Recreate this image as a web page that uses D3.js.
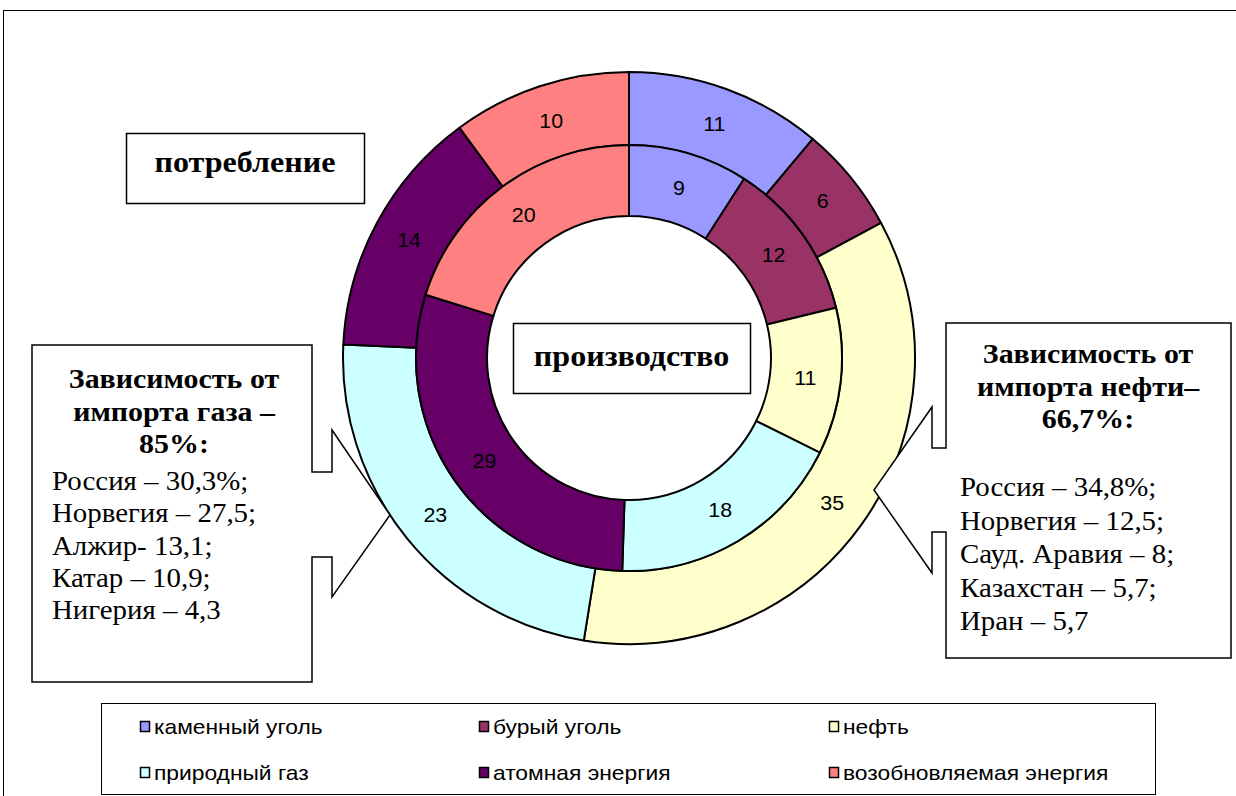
<!DOCTYPE html>
<html><head><meta charset="utf-8">
<script src="https://cdn.jsdelivr.net/npm/d3@7"></script>
<style>body{margin:0;background:#fff}svg{display:block}</style>
</head><body>
<svg id="c" width="1236" height="796"></svg>
<script>
const categories = ["каменный уголь","бурый уголь","нефть","природный газ","атомная энергия","возобновляемая энергия"];
const consumption = [11,6,35,23,14,10];   // outer ring: потребление
const production  = [9,12,11,18,29,20];   // inner ring: производство
const colors = ["#9999FF","#993366","#FFFFCC","#CCFFFF","#660066","#FF8080"];
const gasHeader = ["Зависимость от","импорта газа –","85%:"];
const gasList = ["Россия – 30,3%;","Норвегия – 27,5;","Алжир- 13,1;","Катар – 10,9;","Нигерия – 4,3"];
const oilHeader = ["Зависимость от","импорта нефти–","66,7%:"];
const oilList = ["Россия – 34,8%;","Норвегия – 12,5;","Сауд. Аравия – 8;","Казахстан – 5,7;","Иран – 5,7"];

const svg = d3.select("#c");
const SANS = "'Liberation Sans', Arial, sans-serif";
const SERIF = "'Liberation Serif', 'Times New Roman', serif";
const SX = 1.07; // horizontal stretch of the original text

// chart frame
svg.append("rect").attr("x",3.5).attr("y",10.5).attr("width",1260).attr("height",820)
  .attr("fill","none").attr("stroke","#000").attr("stroke-width",1);

const cx = 629, cy = 358;
const rHole = 142, rMid = 213, rOut = 286;
const color = d3.scaleOrdinal().domain(categories).range(colors);
const pie = d3.pie().sort(null).value(d => d.v);
const g = svg.append("g").attr("transform",`translate(${cx},${cy})`);

function ring(values, r0, r1){
  const data = pie(values.map((v,i)=>({v, c:categories[i]})));
  const arc = d3.arc().innerRadius(r0).outerRadius(r1);
  const gg = g.append("g");
  gg.selectAll("path").data(data).join("path")
    .attr("d",arc).attr("fill",d=>color(d.data.c))
    .attr("stroke","#000").attr("stroke-width",2).attr("stroke-linejoin","round");
  gg.selectAll("text").data(data).join("text")
    .attr("transform",d=>`translate(${arc.centroid(d)}) scale(${SX},1)`)
    .attr("text-anchor","middle").attr("dy","0.35em")
    .attr("font-family",SANS).attr("font-size",20).attr("fill","#000")
    .text(d=>d.data.v);
}
ring(consumption, rMid, rOut);
ring(production, rHole, rMid);

// label boxes
function box(x,y,w,h,label,size,ty){
  svg.append("rect").attr("x",x+0.5).attr("y",y+0.5).attr("width",w).attr("height",h)
    .attr("fill","#fff").attr("stroke","#000").attr("stroke-width",1.5);
  svg.append("text").attr("transform",`translate(${x+w/2},${ty}) scale(${SX},1)`).attr("text-anchor","middle")
    .attr("font-family",SERIF).attr("font-weight","bold").attr("font-size",size).text(label);
}
box(126,133,238,70,"потребление",30,172);
box(513,323,237,70,"производство",30,366);

// callouts
function callout(pts, header, list, hx, hy, lx, ly, lstep){
  svg.append("path").attr("d", d3.line()(pts)+"Z")
    .attr("fill","#fff").attr("stroke","#000").attr("stroke-width",1.5).attr("stroke-linejoin","miter");
  svg.append("g").selectAll("text").data(header).join("text")
    .attr("transform",(d,i)=>`translate(${hx},${hy+i*32.5}) scale(${SX},1)`).attr("text-anchor","middle")
    .attr("font-family",SERIF).attr("font-weight","bold").attr("font-size",28).text(d=>d);
  svg.append("g").selectAll("text").data(list).join("text")
    .attr("transform",(d,i)=>`translate(${lx},${ly+i*lstep}) scale(${SX},1)`)
    .attr("font-family",SERIF).attr("font-size",27).text(d=>d);
}
callout([[32,345],[312,345],[312,472],[332,472],[332,430],[390,515],[332,597],[332,557],[312,557],[312,682],[32,682]],
  gasHeader, gasList, 174, 388, 52, 490, 32.3);
callout([[946,323],[946,448],[932,448],[932,407],[874,490],[932,573],[932,532],[946,532],[946,658],[1231,658],[1231,323]],
  oilHeader, oilList, 1088, 363, 960, 496, 33.5);

// legend
svg.append("rect").attr("x",101.5).attr("y",703.5).attr("width",1054).attr("height",91)
  .attr("fill","#fff").attr("stroke","#000").attr("stroke-width",1);
const legX = [145,484,834], legY = [727,773];
const leg = svg.append("g").selectAll("g").data(categories).join("g")
  .attr("transform",(d,i)=>`translate(${legX[i%3]},${legY[Math.floor(i/3)]})`);
leg.append("rect").attr("x",-4.5).attr("y",-5.5).attr("width",9).attr("height",10)
  .attr("fill",d=>color(d)).attr("stroke","#000").attr("stroke-width",1.5);
leg.append("text").attr("transform","translate(9,0) scale(1.14,1)").attr("dy","0.35em")
  .attr("font-family",SANS).attr("font-size",20).text(d=>d);
</script>
</body></html>
